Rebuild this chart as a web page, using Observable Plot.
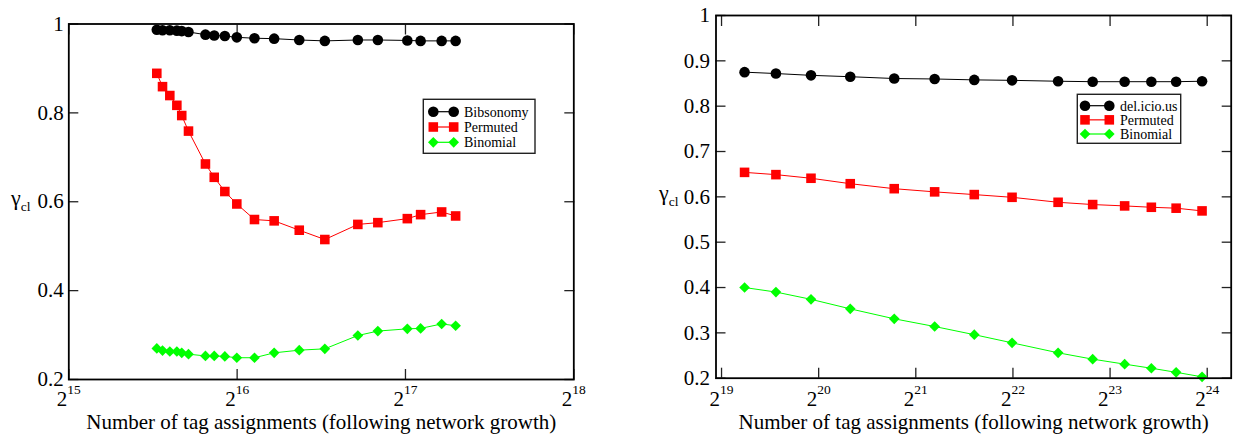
<!DOCTYPE html>
<html><head><meta charset="utf-8">
<script src="https://cdn.jsdelivr.net/npm/d3@7"></script>
<script src="https://cdn.jsdelivr.net/npm/@observablehq/plot@0.6"></script>
<style>
html,body{margin:0;padding:0;background:#fff;}
#wrap{display:flex;width:1238px;height:434px;}
svg{display:block}
svg text{font-family:"Liberation Serif","Times New Roman",serif;}
</style></head><body><div id="wrap"></div>
<script>
const xLabel = "Number of tag assignments (following network growth)";
const yLabelMain = "γ", yLabelSub = "cl";

// Left panel (Bibsonomy)
const leftN = [47080, 48200, 49670, 51130, 52170, 53640, 57520, 59640, 62300, 65450, 70390, 76330, 84640, 94040, 107730, 116980, 132080, 139510, 152130, 161150];
const leftBibsonomy = [0.987, 0.986, 0.986, 0.985, 0.984, 0.982, 0.976, 0.974, 0.973, 0.970, 0.968, 0.967, 0.964, 0.962, 0.964, 0.964, 0.963, 0.962, 0.962, 0.962];
const leftPermuted = [0.889, 0.859, 0.839, 0.817, 0.794, 0.759, 0.685, 0.655, 0.623, 0.595, 0.560, 0.557, 0.536, 0.515, 0.549, 0.553, 0.562, 0.571, 0.577, 0.568];
const leftBinomial = [0.270, 0.265, 0.263, 0.263, 0.260, 0.257, 0.253, 0.253, 0.252, 0.249, 0.249, 0.260, 0.266, 0.269, 0.299, 0.309, 0.314, 0.315, 0.325, 0.321];
const leftXTicks = [2 ** 15, 2 ** 16, 2 ** 17, 2 ** 18];
const leftYTicks = [0.2, 0.4, 0.6, 0.8, 1];
const leftNames = ["Bibsonomy", "Permuted", "Binomial"];

// Right panel (del.icio.us)
const rightN = [617900, 772900, 992700, 1313600, 1798000, 2399000, 3183000, 4168000, 5789000, 7409000, 9308000, 11262000, 13439000, 16172000];
const rightDelicious = [0.875, 0.872, 0.868, 0.865, 0.861, 0.860, 0.858, 0.857, 0.855, 0.854, 0.854, 0.854, 0.854, 0.855];
const rightPermuted = [0.654, 0.649, 0.641, 0.629, 0.618, 0.611, 0.605, 0.599, 0.588, 0.583, 0.580, 0.577, 0.575, 0.569];
const rightBinomial = [0.400, 0.390, 0.374, 0.353, 0.331, 0.314, 0.296, 0.278, 0.256, 0.242, 0.231, 0.222, 0.213, 0.203];
const rightXTicks = [2 ** 19, 2 ** 20, 2 ** 21, 2 ** 22, 2 ** 23, 2 ** 24];
const rightYTicks = [0.2, 0.3, 0.4, 0.5, 0.6, 0.7, 0.8, 0.9, 1];
const rightNames = ["del.icio.us", "Permuted", "Binomial"];

const colors = ["#000000", "#ff0000", "#00ff00"];
const diamond = d3.symbolDiamond2 || {draw(ctx, size) {const r = Math.sqrt(size) * 0.62625; ctx.moveTo(0, -r); ctx.lineTo(r, 0); ctx.lineTo(0, r); ctx.lineTo(-r, 0); ctx.closePath();}};
const plotSymbols = ["circle", "square", diamond];
const d3Symbols = [d3.symbolCircle, d3.symbolSquare, diamond];
const radii = [5.3, 5.4, 4.8];
const FONT = '"Liberation Serif", "Times New Roman", serif';

const fmtY = d => d === 1 ? "1" : d.toFixed(1);
const fmtX = d => "2^" + Math.round(Math.log2(d));

function makePanel(cfg) {
  const marks = [];
  cfg.series.forEach((s, k) => {
    const data = cfg.n.map((x, i) => ({x, y: s[i]}));
    marks.push(Plot.line(data, {x: "x", y: "y", stroke: colors[k], strokeWidth: 1}));
    marks.push(Plot.dot(data, {x: "x", y: "y", r: radii[k], symbol: plotSymbols[k], fill: colors[k], stroke: "none"}));
  });
  const axisOpts = {label: null, stroke: "#222", strokeWidth: 1.3, fontFamily: FONT, fontSize: 21, fontVariant: "normal"};
  const svg = Plot.plot({
    width: cfg.width, height: 434,
    marginLeft: cfg.ml, marginRight: cfg.mr, marginTop: cfg.mt, marginBottom: cfg.mb,
    style: {fontFamily: FONT, fontSize: "21px", background: "white", color: "black", overflow: "visible"},
    x: {type: "log", base: 2, domain: cfg.xDomain, axis: null},
    y: {domain: [0.2, 1], axis: null},
    marks: [
      Plot.axisX(cfg.xTicks, {...axisOpts, anchor: "bottom", tickSize: -10, tickPadding: cfg.xPad, tickFormat: fmtX}),
      Plot.axisX(cfg.xTicks, {...axisOpts, anchor: "top", tickSize: -10, tickFormat: () => ""}),
      Plot.axisY(cfg.yTicks, {...axisOpts, anchor: "left", tickSize: -10, tickPadding: cfg.yPad, tickFormat: fmtY}),
      Plot.axisY(cfg.yTicks, {...axisOpts, anchor: "right", tickSize: -10, tickFormat: () => ""}),
      ...marks,
      Plot.frame({stroke: "black", strokeWidth: 1.8}),
      Plot.text([xLabel], {frameAnchor: "bottom", dy: cfg.labelDy, lineAnchor: "bottom", fontSize: 21, fontFamily: FONT})
    ]
  });
  // superscripts on x tick labels
  svg.querySelectorAll("text").forEach(t => {
    const m = /^2\^(\d+)$/.exec(t.textContent);
    if (!m) return;
    t.textContent = "";
    const ns = "http://www.w3.org/2000/svg";
    const a = document.createElementNS(ns, "tspan"); a.textContent = "2"; t.appendChild(a);
    const b = document.createElementNS(ns, "tspan"); b.textContent = m[1];
    b.setAttribute("font-size", "13.5"); b.setAttribute("dy", "-12"); t.appendChild(b);
  });
  const s = d3.select(svg);
  // y label
  const yl = s.append("text").attr("x", cfg.ylX).attr("y", cfg.ylY).attr("text-anchor", "start")
    .attr("font-family", FONT).attr("fill", "black");
  yl.append("tspan").attr("font-size", 22).text(yLabelMain);
  yl.append("tspan").attr("font-size", 13.5).attr("dy", 6).text(yLabelSub);
  // legend
  const L = cfg.legend;
  const g = s.append("g");
  g.append("rect").attr("x", L.x).attr("y", L.y).attr("width", L.w).attr("height", L.h)
    .attr("fill", "white").attr("stroke", "#222").attr("stroke-width", 1.4);
  cfg.names.forEach((name, k) => {
    const cy = L.row0 + k * L.gap;
    g.append("line").attr("x1", L.m0).attr("x2", L.m1).attr("y1", cy).attr("y2", cy)
      .attr("stroke", colors[k]).attr("stroke-width", 1.2);
    [L.m0, L.m1].forEach(mx => g.append("path")
      .attr("d", d3.symbol(d3Symbols[k], Math.PI * radii[k] ** 2)())
      .attr("transform", `translate(${mx},${cy})`).attr("fill", colors[k]));
    g.append("text").attr("x", L.tx).attr("y", cy + 4.8).attr("font-size", 14).attr("text-anchor", "start")
      .attr("font-family", FONT).attr("fill", "black").text(name);
  });
  return svg;
}

const wrap = document.getElementById("wrap");
wrap.appendChild(makePanel({
  width: 620, ml: 68.3, mr: 46.7, mt: 23.5, mb: 55,
  n: leftN, series: [leftBibsonomy, leftPermuted, leftBinomial], names: leftNames,
  xDomain: [2 ** 15, 2 ** 18], xTicks: leftXTicks, yTicks: leftYTicks,
  xPad: 22, yPad: 15, labelDy: 49.5, ylX: 11, ylY: 205,
  legend: {x: 423.3, y: 99.3, w: 111.7, h: 54, row0: 111.7, gap: 15.3, m0: 433.3, m1: 453.7, tx: 464}
}));
wrap.appendChild(makePanel({
  width: 618, ml: 95.5, mr: 7.3, mt: 15, mb: 56.3,
  n: rightN, series: [rightDelicious, rightPermuted, rightBinomial], names: rightNames,
  xDomain: [2 ** 18.943, 2 ** 24.247], xTicks: rightXTicks, yTicks: rightYTicks,
  xPad: 23, yPad: 16, labelDy: 50.8, ylX: 39, ylY: 200,
  legend: {x: 457.3, y: 94.3, w: 103.4, h: 49, row0: 105.7, gap: 14.15, m0: 465, m1: 489.3, tx: 500}
}));
</script></body></html>
